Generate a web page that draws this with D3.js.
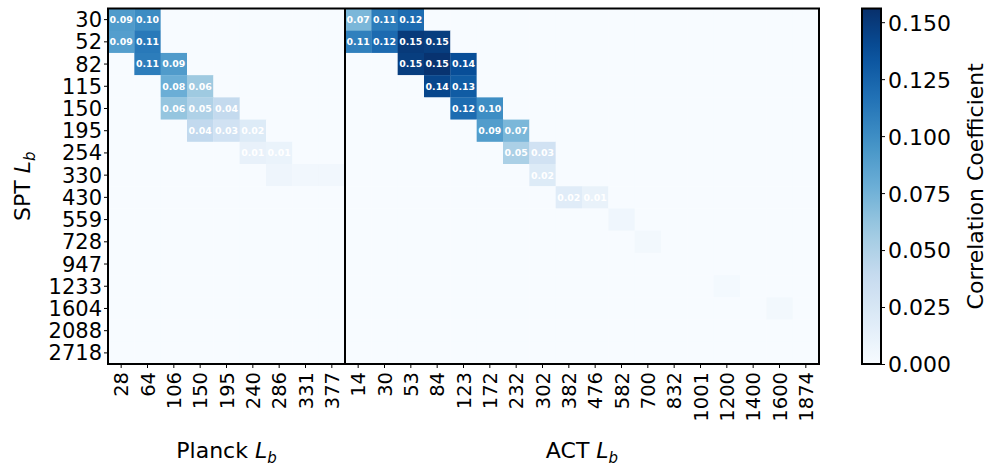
<!DOCTYPE html>
<html>
<head>
<meta charset="utf-8">
<script src="https://cdn.jsdelivr.net/npm/d3@7"></script>
<style>
  body { margin: 0; background: #fff; }
  text { font-family: "DejaVu Sans", sans-serif; }
</style>
</head>
<body>
<svg id="chart" width="997" height="474"></svg>
<script>
// bin centres
var sptBins = [30, 52, 82, 115, 150, 195, 254, 330, 430, 559, 728, 947, 1233, 1604, 2088, 2718];
var planckBins = [28, 64, 106, 150, 195, 240, 286, 331, 377];
var actBins = [14, 30, 53, 84, 123, 172, 232, 302, 382, 476, 582, 700, 832, 1001, 1200, 1400, 1600, 1874];

// correlation SPT x Planck (rows = SPT bins)
var planckCorr = [
  [0.091, 0.101, 0, 0, 0, 0, 0, 0, 0],
  [0.089, 0.112, 0, 0, 0, 0, 0, 0, 0],
  [0, 0.110, 0.091, 0, 0, 0, 0, 0, 0],
  [0, 0, 0.078, 0.058, 0, 0, 0, 0, 0],
  [0, 0, 0.062, 0.050, 0.040, 0, 0, 0, 0],
  [0, 0, 0, 0.041, 0.030, 0.020, 0, 0, 0],
  [0, 0, 0, 0, 0, 0.012, 0.010, 0, 0],
  [0, 0, 0, 0, 0, 0, 0.007, 0.005, 0.005],
  [0, 0, 0, 0, 0, 0, 0, 0, 0],
  [0, 0, 0, 0, 0, 0, 0, 0, 0],
  [0, 0, 0, 0, 0, 0, 0, 0, 0],
  [0, 0, 0, 0, 0, 0, 0, 0, 0],
  [0, 0, 0, 0, 0, 0, 0, 0, 0],
  [0, 0, 0, 0, 0, 0, 0, 0, 0],
  [0, 0, 0, 0, 0, 0, 0, 0, 0],
  [0, 0, 0, 0, 0, 0, 0, 0, 0]
];

// correlation SPT x ACT (rows = SPT bins)
var actCorr = [
  [0.072, 0.110, 0.120, 0, 0, 0, 0, 0, 0, 0, 0, 0, 0, 0, 0, 0, 0, 0],
  [0.108, 0.121, 0.150, 0.148, 0, 0, 0, 0, 0, 0, 0, 0, 0, 0, 0, 0, 0, 0],
  [0, 0, 0.148, 0.154, 0.138, 0, 0, 0, 0, 0, 0, 0, 0, 0, 0, 0, 0, 0],
  [0, 0, 0, 0.143, 0.130, 0, 0, 0, 0, 0, 0, 0, 0, 0, 0, 0, 0, 0],
  [0, 0, 0, 0, 0.120, 0.100, 0, 0, 0, 0, 0, 0, 0, 0, 0, 0, 0, 0],
  [0, 0, 0, 0, 0, 0.090, 0.072, 0, 0, 0, 0, 0, 0, 0, 0, 0, 0, 0],
  [0, 0, 0, 0, 0, 0, 0.052, 0.030, 0, 0, 0, 0, 0, 0, 0, 0, 0, 0],
  [0, 0, 0, 0, 0, 0, 0, 0.020, 0, 0, 0, 0, 0, 0, 0, 0, 0, 0],
  [0, 0, 0, 0, 0, 0, 0, 0, 0.018, 0.011, 0, 0, 0, 0, 0, 0, 0, 0],
  [0, 0, 0, 0, 0, 0, 0, 0, 0, 0, 0.006, 0, 0, 0, 0, 0, 0, 0],
  [0, 0, 0, 0, 0, 0, 0, 0, 0, 0, 0, 0.004, 0, 0, 0, 0, 0, 0],
  [0, 0, 0, 0, 0, 0, 0, 0, 0, 0, 0, 0, 0, 0, 0, 0, 0, 0],
  [0, 0, 0, 0, 0, 0, 0, 0, 0, 0, 0, 0, 0, 0, 0.003, 0, 0, 0],
  [0, 0, 0, 0, 0, 0, 0, 0, 0, 0, 0, 0, 0, 0, 0, 0, 0.004, 0],
  [0, 0, 0, 0, 0, 0, 0, 0, 0, 0, 0, 0, 0, 0, 0, 0, 0, 0],
  [0, 0, 0, 0, 0, 0, 0, 0, 0, 0, 0, 0, 0, 0, 0, 0, 0, 0]
];

var cbarTicks = [0, 0.025, 0.05, 0.075, 0.1, 0.125, 0.15];
var vmax = 0.156;

//-------------- layout
var plot = {left: 108, right: 819, top: 8.5, bottom: 364};
var cbar = {left: 862, width: 19};

var svg = d3.select("#chart");

// one band scale for all 27 columns (Planck first, then ACT)
var colKeys = planckBins.map(function(d, i) { return "P" + i; })
  .concat(actBins.map(function(d, i) { return "A" + i; }));
var colLabel = {};
planckBins.forEach(function(d, i) { colLabel["P" + i] = d; });
actBins.forEach(function(d, i) { colLabel["A" + i] = d; });

var x = d3.scaleBand()
  .domain(colKeys)
  .range([plot.left, plot.right])
  .padding(0);

var y = d3.scaleBand()
  .domain(sptBins)
  .range([plot.top, plot.bottom])
  .padding(0);

// matplotlib style Blues (linear between the 9 brewer colours)
var blues = ["#f7fbff", "#deebf7", "#c6dbef", "#9ecae1", "#6baed6", "#4292c6", "#2171b5", "#08519c", "#08306b"];
var color = d3.scaleLinear()
  .domain(d3.range(9).map(function(i) { return vmax * i / 8; }))
  .range(blues)
  .interpolate(d3.interpolateRgb)
  .clamp(true);

// flatten the two matrices into cells
var cells = [];
sptBins.forEach(function(s, r) {
  planckCorr[r].forEach(function(v, c) { cells.push({row: s, col: "P" + c, value: v}); });
  actCorr[r].forEach(function(v, c) { cells.push({row: s, col: "A" + c, value: v}); });
});

//-------------- heatmap cells
svg.append("g")
  .selectAll("rect")
  .data(cells)
  .enter().append("rect")
  .attr("x", function(d) { return x(d.col); })
  .attr("y", function(d) { return y(d.row); })
  .attr("width", x.bandwidth() + 0.3)
  .attr("height", y.bandwidth() + 0.3)
  .attr("fill", function(d) { return color(d.value); });

// annotations
svg.append("g")
  .selectAll("text")
  .data(cells.filter(function(d) { return d.value >= 0.0095; }))
  .enter().append("text")
  .attr("x", function(d) { return x(d.col) + x.bandwidth() / 2; })
  .attr("y", function(d) { return y(d.row) + y.bandwidth() / 2; })
  .attr("dy", "0.36em")
  .attr("text-anchor", "middle")
  .style("font-size", "9.4px")
  .style("font-weight", "bold")
  .attr("fill", "#fff")
  .text(function(d) { return d3.format(".2f")(d.value); });

//-------------- axes
var yAxis = svg.append("g")
  .attr("transform", "translate(" + plot.left + ",0)")
  .call(d3.axisLeft(y).tickSize(4).tickSizeOuter(0));
yAxis.select(".domain").remove();
yAxis.selectAll("line").attr("stroke", "#000").attr("stroke-width", 1);
yAxis.selectAll("text")
  .attr("x", -6)
  .attr("dy", "0.36em")
  .style("font-size", "21px")
  .attr("fill", "#000");

var xAxis = svg.append("g")
  .attr("transform", "translate(0," + plot.bottom + ")")
  .call(d3.axisBottom(x).tickSize(4).tickSizeOuter(0).tickFormat(function(d) { return colLabel[d]; }));
xAxis.select(".domain").remove();
xAxis.selectAll("line").attr("stroke", "#000").attr("stroke-width", 1);
xAxis.selectAll("text")
  .attr("transform", "rotate(-90)")
  .attr("x", -8)
  .attr("y", 0)
  .attr("dy", "0.36em")
  .style("text-anchor", "end")
  .style("font-size", "19.5px")
  .attr("fill", "#000");

// frame + separator between Planck and ACT
svg.append("rect")
  .attr("x", plot.left)
  .attr("y", plot.top)
  .attr("width", plot.right - plot.left)
  .attr("height", plot.bottom - plot.top)
  .attr("fill", "none")
  .attr("stroke", "#000")
  .attr("stroke-width", 2);

svg.append("line")
  .attr("x1", x("A0"))
  .attr("x2", x("A0"))
  .attr("y1", plot.top)
  .attr("y2", plot.bottom)
  .attr("stroke", "#000")
  .attr("stroke-width", 2);

// axis titles with italic L_b
function lbTitle(sel, name) {
  sel.append("tspan").text(name + " ");
  sel.append("tspan").style("font-style", "italic").text("L");
  sel.append("tspan").style("font-style", "italic").style("font-size", "15px")
    .attr("dy", "0.3em").text("b");
}

svg.append("text")
  .attr("x", (plot.left + x("A0")) / 2)
  .attr("y", 458)
  .attr("text-anchor", "middle")
  .style("font-size", "22px")
  .call(lbTitle, "Planck");

svg.append("text")
  .attr("x", (x("A0") + plot.right) / 2)
  .attr("y", 458)
  .attr("text-anchor", "middle")
  .style("font-size", "22px")
  .call(lbTitle, "ACT");

svg.append("text")
  .attr("transform", "translate(30," + ((plot.top + plot.bottom) / 2) + ") rotate(-90)")
  .attr("text-anchor", "middle")
  .style("font-size", "22px")
  .call(lbTitle, "SPT");

//-------------- colorbar
var cy = d3.scaleLinear()
  .domain([0, vmax])
  .range([plot.bottom, plot.top]);

var grad = svg.append("defs").append("linearGradient")
  .attr("id", "cbar-grad")
  .attr("x1", 0).attr("x2", 0).attr("y1", 1).attr("y2", 0);
grad.selectAll("stop")
  .data(d3.range(0, 1.0001, 0.05))
  .enter().append("stop")
  .attr("offset", function(d) { return d; })
  .attr("stop-color", function(d) { return color(d * vmax); });

svg.append("rect")
  .attr("x", cbar.left)
  .attr("y", plot.top)
  .attr("width", cbar.width)
  .attr("height", plot.bottom - plot.top)
  .attr("fill", "url(#cbar-grad)")
  .attr("stroke", "#000")
  .attr("stroke-width", 2);

var cAxis = svg.append("g")
  .attr("transform", "translate(" + (cbar.left + cbar.width) + ",0)")
  .call(d3.axisRight(cy).tickValues(cbarTicks).tickSize(4).tickFormat(d3.format(".3f")));
cAxis.select(".domain").remove();
cAxis.selectAll("line").attr("stroke", "#000").attr("stroke-width", 1);
cAxis.selectAll("text")
  .attr("x", 7)
  .attr("dy", "0.36em")
  .style("font-size", "22px")
  .attr("fill", "#000");

svg.append("text")
  .attr("transform", "translate(983," + ((plot.top + plot.bottom) / 2) + ") rotate(-90)")
  .attr("text-anchor", "middle")
  .style("font-size", "22px")
  .text("Correlation Coefficient");
</script>
</body>
</html>
